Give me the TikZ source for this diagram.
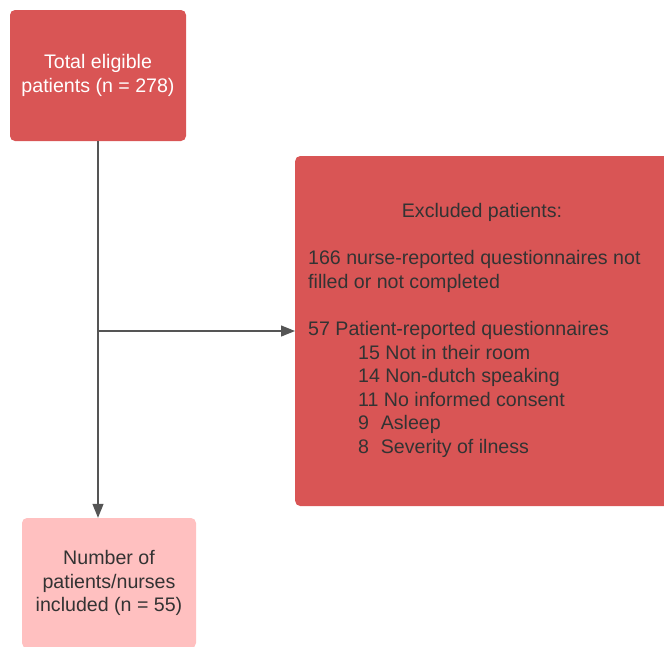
\documentclass[tikz,border=0pt]{standalone}
\usepackage{fontspec}
\setmainfont{Liberation Sans}
\usetikzlibrary{arrows.meta}
\definecolor{boxred}{RGB}{217,85,85}
\definecolor{boxpink}{RGB}{255,192,192}
\definecolor{txtgray}{RGB}{51,51,51}
\definecolor{linegray}{RGB}{85,85,85}
\tikzset{
  redbox/.style={fill=boxred,rounded corners=5pt,inner sep=0pt},
  pinkbox/.style={fill=boxpink,rounded corners=5pt,inner sep=0pt,
    text=txtgray,align=center},
  flowline/.style={draw=linegray,line width=1.2pt,
    -{Triangle[length=14pt,width=11pt]}}
}
\begin{document}
\begin{tikzpicture}[x=1pt,y=-1pt,font=\fontsize{19.6}{23.5}\selectfont]
  \useasboundingbox (0,0) rectangle (664,646);
  \node[redbox,minimum width=176pt,minimum height=131pt,text=white,align=center]
    (total) at (98,75.5) {Total eligible\\patients (n = 278)};
  \node[redbox,minimum width=380pt,minimum height=350pt,anchor=west]
    (excl) at (295,331) {};
  \node[pinkbox,minimum width=174pt,minimum height=130pt]
    (incl) at (109,583) {Number of\\patients/nurses\\included (n = 55)};
  % text of the excluded box
  \node[text=txtgray,anchor=base,inner sep=0pt] (head) at (482,217) {Excluded patients:};
  \node[text=txtgray,anchor=base west,align=left,inner sep=0pt] (nurse) at (308,288)
    {166 nurse-reported questionnaires not\\filled or not completed};
  \node[text=txtgray,anchor=base west,inner sep=0pt] (pat) at (308,335)
    {57 Patient-reported questionnaires};
  \node[text=txtgray,anchor=base west,align=left,inner sep=0pt] (reasons) at (358,453)
    {15 Not in their room\\14 Non-dutch speaking\\11 No informed consent\\
     9\hspace{0.6em}Asleep\\8\hspace{0.6em}Severity of ilness};
  \draw[flowline] (total.south) -- (total.south |- incl.north);
  \coordinate (branch) at (total.south |- excl.west);
  \draw[flowline] (branch) -- (excl.west);
\end{tikzpicture}
\end{document}
